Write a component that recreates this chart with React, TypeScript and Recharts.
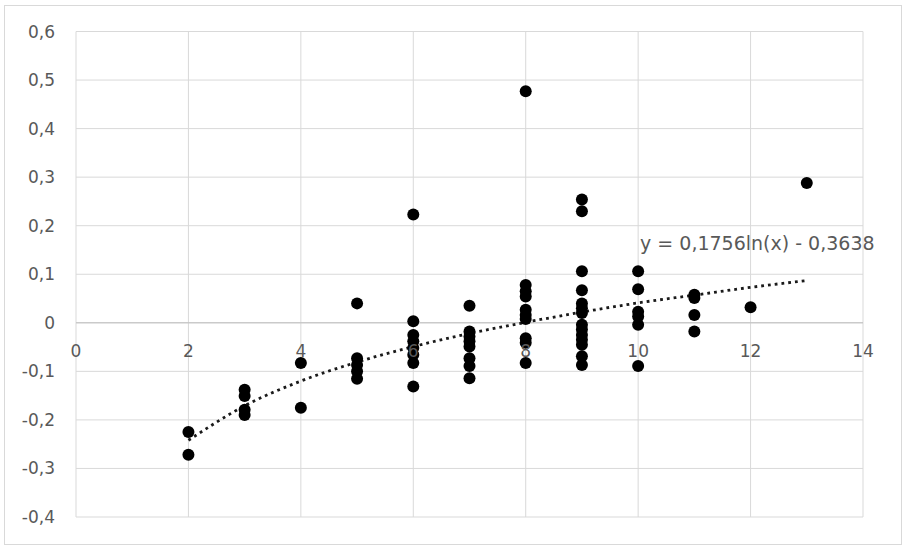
import React from 'react';
import {
  ComposedChart,
  Scatter,
  Line,
  XAxis,
  YAxis,
  CartesianGrid,
  ReferenceLine,
  ReferenceDot,
} from 'recharts';

// x positions of the point columns and the y values read in each column
const groupX = [2, 3, 4, 5, 6, 7, 8, 9, 10, 11, 12, 13];
const groupValues = [
  [-0.225, -0.272],
  [-0.138, -0.151, -0.179, -0.19],
  [-0.083, -0.175],
  [0.04, -0.073, -0.087, -0.1, -0.115],
  [0.223, 0.003, -0.025, -0.038, -0.052, -0.066, -0.083, -0.131],
  [0.035, -0.018, -0.028, -0.038, -0.049, -0.073, -0.089, -0.114],
  [0.477, 0.078, 0.065, 0.054, 0.027, 0.016, 0.008, -0.032, -0.041, -0.083],
  [0.254, 0.23, 0.106, 0.067, 0.04, 0.03, 0.02, -0.004, -0.014, -0.025, -0.035, -0.045, -0.069, -0.087],
  [0.106, 0.069, 0.023, 0.013, -0.004, -0.089],
  [0.058, 0.051, 0.016, -0.018],
  [0.032],
  [0.288],
];

// dotted trendline, read at each whole x
const trendX = [2, 3, 4, 5, 6, 7, 8, 9, 10, 11, 12, 13];
const trendY = [-0.242, -0.171, -0.12, -0.081, -0.049, -0.022, 0.001, 0.022, 0.041, 0.057, 0.073, 0.087];

const xTicks = [0, 2, 4, 6, 8, 10, 12, 14];
const yTicks = [-0.4, -0.3, -0.2, -0.1, 0, 0.1, 0.2, 0.3, 0.4, 0.5, 0.6];
const equation = 'y = 0,1756ln(x) - 0,3638';

const points = groupX.flatMap((x, i) => groupValues[i].map((y) => ({ x, y })));
const trend = trendX.map((x, i) => ({ x, t: trendY[i] }));

const W = 907;
const H = 551;
const TOP = 31.5;
const BOTTOM = 34;
const FONT = '"DejaVu Sans", Verdana, sans-serif';
const TEXT = '#595959';

const plotH = H - TOP - BOTTOM;
const zeroY = TOP + plotH * (0.6 / 1.0);

const fmt = (v: number) => (Math.abs(v) < 1e-9 ? '0' : String(Math.round(v * 10) / 10).replace('.', ','));

const XTick = (props: any) => {
  const { x, payload } = props;
  return (
    <text x={x} y={zeroY + 28} textAnchor="middle" dominantBaseline="central" fill={TEXT} fontSize={17} fontFamily={FONT}>
      {fmt(payload.value)}
    </text>
  );
};

const Dot = (props: any) => <circle cx={props.cx} cy={props.cy} r={6} fill="#000" />;

export default function App() {
  return (
    <div style={{ position: 'absolute', left: 0, top: 0, width: W, height: H, background: '#fff' }}>
      <div
        style={{
          position: 'absolute',
          left: 4,
          top: 5,
          width: 898,
          height: 540,
          border: '1px solid #d9d9d9',
          boxSizing: 'border-box',
        }}
      />
      <div style={{ position: 'absolute', left: 0, top: 0 }}>
        <ComposedChart width={W} height={H} margin={{ top: TOP, right: 44, bottom: 0, left: 0 }}>
          <CartesianGrid stroke="#d9d9d9" strokeWidth={1} />
          <XAxis
            type="number"
            dataKey="x"
            domain={[0, 14]}
            ticks={xTicks}
            axisLine={false}
            tickLine={false}
            height={BOTTOM}
            tick={<XTick />}
            interval={0}
          />
          <YAxis
            type="number"
            domain={[-0.4, 0.6]}
            ticks={yTicks}
            width={76}
            axisLine={false}
            tickLine={false}
            tickSize={0}
            tickMargin={21}
            interval={0}
            tickFormatter={fmt}
            tick={{ fill: TEXT, fontSize: 17, fontFamily: FONT }}
          />
          <ReferenceLine y={0} stroke="#bfbfbf" strokeWidth={1} />
          <Line
            data={trend}
            dataKey="t"
            type="monotone"
            stroke="#1a1a1a"
            strokeWidth={2.8}
            strokeDasharray="2.8 4"
            dot={false}
            activeDot={false}
            isAnimationActive={false}
          />
          <Scatter data={points} dataKey="y" shape={<Dot />} isAnimationActive={false} />
          <ReferenceDot
            x={12.12}
            y={0.164}
            r={0}
            fill="none"
            stroke="none"
            ifOverflow="visible"
            label={{ value: equation, position: 'center', fill: TEXT, fontSize: 19, fontFamily: FONT }}
          />
        </ComposedChart>
      </div>
    </div>
  );
}
